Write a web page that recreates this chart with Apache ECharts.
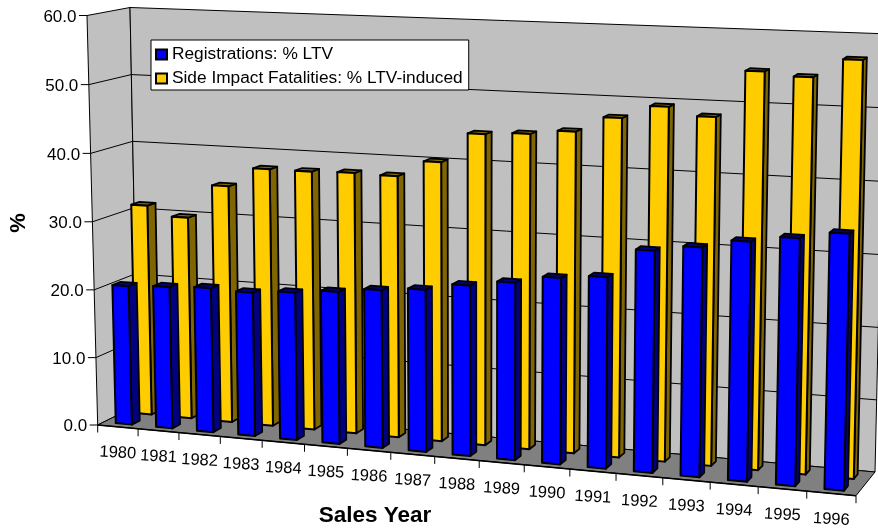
<!DOCTYPE html>
<html>
<head>
<meta charset="utf-8">
<title>Side impact fatalities</title>
<script src="https://cdn.jsdelivr.net/npm/echarts@6/dist/echarts.min.js"></script>
<style>
html, body { margin: 0; padding: 0; background: #fff; }
#chart { width: 878px; height: 529px; }
</style>
</head>
<body>
<div id="chart"></div>
<script>
// chart data
var years = ['1980', '1981', '1982', '1983', '1984', '1985', '1986', '1987', '1988',
	'1989', '1990', '1991', '1992', '1993', '1994', '1995', '1996'];
var registrations = [20.5, 20.8, 21.1, 20.9, 21.35, 21.9, 22.6, 23.1, 24.15, 25, 26.1, 26.65, 30.75, 31.6, 32.8, 33.7, 34.7];
var fatalities = [31.3, 29.9, 34.9, 37.75, 37.75, 37.9, 37.8, 40.15, 44.45, 44.8, 45.45, 47.65, 49.5, 48.4, 54.9, 54.4, 57];
var yTicks = [0, 10, 20, 30, 40, 50, 60];

var FONT = '"Liberation Sans", Arial, sans-serif';

// the picture's box in perspective: f = front, b = back, L/R, 0 = floor, 1 = top
var box = {
	fL0: [97.7, 425], fL1: [87, 15.5],
	fR0: [856, 495.7], fR1: [866, 46],
	bL0: [138, 405], bL1: [130, 7.5],
	bR0: [875, 472], bR1: [885, 33.8]
};

function lerp(a, b, t) {
	return [a[0] + (b[0] - a[0]) * t, a[1] + (b[1] - a[1]) * t];
}
// foreshortening along a edge, k < 1 makes the far end stretch
function remap(t, k) {
	return k * t / (1 + (k - 1) * t);
}
// u across the years, v into the depth, w up the value axis (all 0..1)
function project(u, v, w) {
	var uu = remap(u, 0.9);
	var ww = remap(w, 0.985);
	var front = lerp(lerp(box.fL0, box.fR0, uu), lerp(box.fL1, box.fR1, uu), ww);
	var back = lerp(lerp(box.bL0, box.bR0, uu), lerp(box.bL1, box.bR1, uu), ww);
	return lerp(front, back, v);
}
function toU(cs, px) {
	return (px - cs.x) / cs.width;
}
function toW(cs, py) {
	return (cs.y + cs.height - py) / cs.height;
}
function quad(pts, fill, width) {
	return {
		type: 'polygon',
		shape: { points: pts },
		style: { fill: fill, stroke: '#000', lineWidth: width, lineJoin: 'round' }
	};
}
function line(a, b, width, color) {
	return {
		type: 'line',
		shape: { x1: a[0], y1: a[1], x2: b[0], y2: b[1] },
		style: { stroke: color || '#000', lineWidth: width }
	};
}

// one bar as three faces
function barRenderer(v0, v1, front, side) {
	return function(params, api) {
		var cs = params.coordSys;
		var c = api.coord([api.value(0), api.value(1)]);
		var base = api.coord([api.value(0), 0]);
		var band = api.size([1, 0])[0];
		var u0 = toU(cs, c[0] - band * 0.2);
		var u1 = toU(cs, c[0] + band * 0.2);
		var w = toW(cs, c[1]);
		var w0 = toW(cs, base[1]);
		return {
			type: 'group',
			children: [
				quad([project(u1, v0, w0), project(u1, v1, w0), project(u1, v1, w), project(u1, v0, w)], side, 1.8),
				quad([project(u0, v0, w), project(u1, v0, w), project(u1, v1, w), project(u0, v1, w)], side, 1.8),
				quad([project(u0, v0, w0), project(u1, v0, w0), project(u1, v0, w), project(u0, v0, w)], front, 2)
			]
		};
	};
}

// walls, floor and the lines on them
function renderWalls(params, api) {
	var cs = params.coordSys;
	var children = [
		quad([project(0, 0, 0), project(0, 1, 0), project(0, 1, 1), project(0, 0, 1)], '#c0c0c0', 1),
		quad([project(0, 1, 0), project(1, 1, 0), project(1, 1, 1), project(0, 1, 1)], '#c0c0c0', 1),
		quad([project(0, 0, 0), project(1, 0, 0), project(1, 1, 0), project(0, 1, 0)], '#808080', 1)
	];
	yTicks.forEach(function(t) {
		var w = toW(cs, api.coord([0, t])[1]);
		var a = project(0, 0, w);
		children.push(line([a[0] - 8, a[1]], a, 1));
		if (t > 0 && t < 60) {
			children.push(line(a, project(0, 1, w), 1));
			children.push(line(project(0, 1, w), project(1, 1, w), 1));
		}
		children.push({
			type: 'text',
			x: a[0] - 10.5,
			y: a[1] + 1.5,
			style: { text: t.toFixed(1), font: '17px ' + FONT, fill: '#000', align: 'right', verticalAlign: 'middle' }
		});
	});
	children.push(line(project(0, 0, 0), project(1, 0, 0), 1.6));
	return { type: 'group', children: children };
}

// year ticks and year labels under the front edge
function renderYear(params, api) {
	var cs = params.coordSys;
	var i = api.value(0);
	var c = api.coord([i, 0]);
	var band = api.size([1, 0])[0];
	var children = [];
	var edge = project(toU(cs, c[0] - band / 2), 0, 0);
	children.push(line(edge, [edge[0], edge[1] + 7.5], 1));
	if (i === years.length - 1) {
		var end = project(1, 0, 0);
		children.push(line(end, [end[0], end[1] + 7.5], 1));
	}
	var mid = project(toU(cs, c[0]), 0, 0);
	children.push({
		type: 'text',
		x: mid[0],
		y: mid[1] + 26,
		rotation: -3 * Math.PI / 180,
		style: { text: years[i], font: '16.5px ' + FONT, fill: '#000', align: 'center', verticalAlign: 'middle' }
	});
	return { type: 'group', children: children };
}

var myChart = echarts.init(document.getElementById('chart'));

var option = {
	animation: false,
	backgroundColor: '#fff',
	textStyle: { fontFamily: FONT },
	// hidden flat axes, project() turns their pixels into the tilted box
	grid: { left: 97.7, top: 15.5, width: 758.3, height: 409.5 },
	xAxis: { type: 'category', data: years, show: false },
	yAxis: { type: 'value', min: 0, max: 60, interval: 10, show: false },
	legend: {
		left: 151,
		top: 40,
		orient: 'vertical',
		data: ['Registrations: % LTV', 'Side Impact Fatalities: % LTV-induced'],
		backgroundColor: '#fff',
		borderColor: '#000',
		borderWidth: 1,
		borderRadius: 0,
		padding: [6, 6, 3, 4],
		itemWidth: 11,
		itemHeight: 10,
		itemGap: 7,
		icon: 'rect',
		selectedMode: false,
		textStyle: { fontSize: 17.3, color: '#000', fontFamily: FONT }
	},
	graphic: [{
		type: 'text',
		x: 375,
		y: 516,
		style: { text: 'Sales Year', font: 'bold 22.5px ' + FONT, fill: '#000', align: 'center', verticalAlign: 'middle' }
	}, {
		type: 'text',
		x: 19,
		y: 223,
		rotation: Math.PI / 2,
		style: { text: '%', font: 'bold 22px ' + FONT, fill: '#000', align: 'center', verticalAlign: 'middle' }
	}],
	series: [{
		name: 'walls',
		type: 'custom',
		silent: true,
		clip: false,
		z: 1,
		data: [[0, 0]],
		encode: { x: 0, y: 1 },
		renderItem: renderWalls
	}, {
		name: 'years',
		type: 'custom',
		silent: true,
		clip: false,
		z: 1,
		data: years.map(function(y, i) { return [i, 0]; }),
		encode: { x: 0, y: 1 },
		renderItem: renderYear
	}, {
		name: 'Side Impact Fatalities: % LTV-induced',
		type: 'custom',
		clip: false,
		z: 2,
		itemStyle: { color: '#ffcc00', borderColor: '#000', borderWidth: 1.5 },
		data: fatalities.map(function(val, i) { return [i, val]; }),
		encode: { x: 0, y: 1 },
		renderItem: barRenderer(0.65, 0.85, '#ffcc00', '#806600')
	}, {
		name: 'Registrations: % LTV',
		type: 'custom',
		clip: false,
		z: 3,
		itemStyle: { color: '#0000ff', borderColor: '#000', borderWidth: 1.5 },
		data: registrations.map(function(val, i) { return [i, val]; }),
		encode: { x: 0, y: 1 },
		renderItem: barRenderer(0.15, 0.35, '#0000ff', '#000080')
	}]
};

myChart.setOption(option);
</script>
</body>
</html>
